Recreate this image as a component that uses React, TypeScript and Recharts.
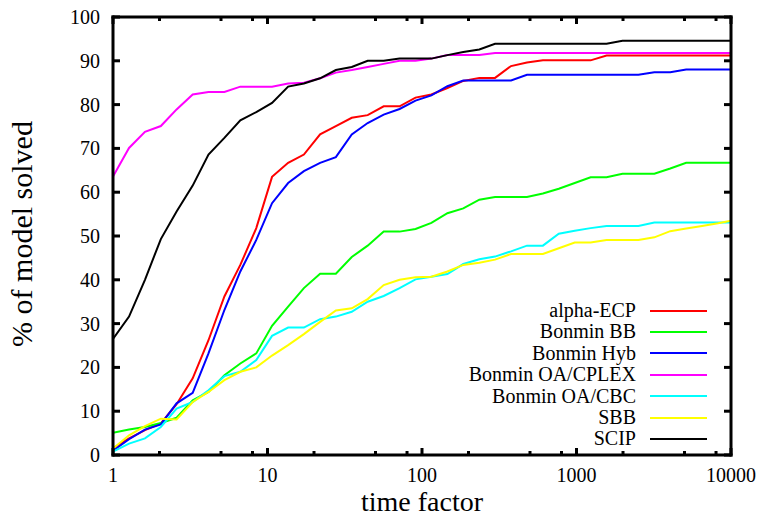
import { LineChart, Line, XAxis, YAxis, Legend } from 'recharts';

const FONT = '"Liberation Serif", "Times New Roman", serif';

// time factor at each sample (log spaced, ~1.27x per step)
const timeFactors = [
  1, 1.27, 1.61, 2.04, 2.58, 3.28, 4.15, 5.26, 6.67, 8.46,
  10.7, 13.6, 17.2, 21.9, 27.7, 35.1, 44.5, 56.5, 71.6, 90.8,
  115, 146, 185, 235, 297, 377, 478, 606, 768, 974,
  1234, 1565, 1984, 2516, 3190, 4044, 5127, 6500, 8241, 10000,
];

const alphaEcp = [
  1.5, 3.8, 5.7, 7.2, 11.6, 17.5, 26.2, 36.2, 43.4, 51.8,
  63.5, 66.7, 68.6, 73.2, 75.1, 77, 77.6, 79.6, 79.6, 81.6,
  82.3, 83.8, 85.4, 86.1, 86.1, 88.8, 89.6, 90.1, 90.1, 90.1,
  90.1, 91.2, 91.2, 91.2, 91.2, 91.2, 91.2, 91.2, 91.2, 91.2,
];

const bonminBB = [
  5.1, 5.8, 6.4, 7.3, 8.5, 12.5, 14.4, 18.2, 20.9, 23.2,
  29.5, 33.9, 38.1, 41.4, 41.4, 45.2, 47.8, 51, 51, 51.6,
  53, 55.2, 56.3, 58.3, 58.9, 58.9, 58.9, 59.7, 60.8, 62.1,
  63.4, 63.4, 64.2, 64.2, 64.2, 65.4, 66.7, 66.7, 66.7, 66.7,
];

const bonminHyb = [
  1, 3.6, 5.8, 7, 11.8, 14.2, 23.2, 33.1, 41.9, 49.1,
  57.5, 62.1, 64.8, 66.7, 68, 73.2, 75.8, 77.7, 79, 80.9,
  82.1, 84.2, 85.5, 85.5, 85.5, 85.5, 86.8, 86.8, 86.8, 86.8,
  86.8, 86.8, 86.8, 86.8, 87.4, 87.4, 88, 88, 88, 88,
];

const bonminOaCplex = [
  63.6, 70.1, 73.8, 75.1, 78.9, 82.3, 82.9, 82.9, 84.1, 84.1,
  84.1, 84.8, 85, 86, 87.3, 87.9, 88.6, 89.3, 90, 90,
  90.5, 91.3, 91.3, 91.3, 91.8, 91.8, 91.8, 91.8, 91.8, 91.8,
  91.8, 91.8, 91.8, 91.8, 91.8, 91.8, 91.8, 91.8, 91.8, 91.8,
];

const bonminOaCbc = [
  0.8, 2.6, 3.8, 6.4, 10.6, 12.1, 14.8, 18, 19, 21.7,
  27.2, 29.1, 29.1, 31, 31.6, 32.7, 35, 36.3, 38.1, 40.1,
  40.7, 41.3, 43.6, 44.7, 45.3, 46.5, 47.8, 47.8, 50.5, 51.2,
  51.8, 52.3, 52.3, 52.3, 53.1, 53.1, 53.1, 53.1, 53.1, 53.1,
];

const sbb = [
  1.5, 4.5, 6.6, 8.3, 8.1, 12.1, 14.4, 17.1, 19, 20,
  22.7, 25.1, 27.6, 30.4, 33, 33.5, 35.6, 38.8, 40, 40.6,
  40.7, 41.9, 43.4, 43.9, 44.6, 45.9, 45.9, 45.9, 47.2, 48.5,
  48.5, 49.1, 49.1, 49.1, 49.7, 51.1, 51.7, 52.3, 52.9, 53.5,
];

const scip = [
  26.5, 31.6, 40, 49.3, 55.6, 61.5, 68.6, 72.4, 76.4, 78.3,
  80.4, 84.1, 84.8, 86, 87.9, 88.6, 90, 90, 90.5, 90.5,
  90.5, 91.3, 92, 92.6, 93.9, 93.9, 93.9, 93.9, 93.9, 93.9,
  93.9, 93.9, 94.6, 94.6, 94.6, 94.6, 94.6, 94.6, 94.6, 94.6,
];

const seriesNames = ['alpha-ECP', 'Bonmin BB', 'Bonmin Hyb', 'Bonmin OA/CPLEX', 'Bonmin OA/CBC', 'SBB', 'SCIP'];
const seriesColors = ['#ff0000', '#00ff00', '#0000ff', '#ff00ff', '#00ffff', '#ffff00', '#000000'];
const seriesValues = [alphaEcp, bonminBB, bonminHyb, bonminOaCplex, bonminOaCbc, sbb, scip];

const majorX = [1, 10, 100, 1000, 10000];
const xTicks = [1, 2, 5, 8, 10, 20, 50, 80, 100, 200, 500, 800, 1000, 2000, 5000, 8000, 10000];
const yTicks = [0, 10, 20, 30, 40, 50, 60, 70, 80, 90, 100];

const data = timeFactors.map((x, i) => {
  const row: Record<string, number> = { x };
  seriesNames.forEach((name, s) => {
    row[name] = seriesValues[s][i];
  });
  return row;
});

// ticks point inward, labels sit outside the frame
const BottomTick = ({ x, y, payload }: any) => {
  const major = majorX.includes(payload.value);
  return (
    <g>
      <line x1={x} x2={x} y1={y} y2={y - (major ? 7 : 4)} stroke="#000" strokeWidth={3} />
      {major && (
        <text x={x} y={y + 27} textAnchor="middle" fontFamily={FONT} fontSize={20} fill="#000">
          {payload.value}
        </text>
      )}
    </g>
  );
};

const TopTick = ({ x, y, payload }: any) => {
  const major = majorX.includes(payload.value);
  return <line x1={x} x2={x} y1={y} y2={y + (major ? 7 : 4)} stroke="#000" strokeWidth={3} />;
};

const LeftTick = ({ x, y, payload }: any) => (
  <g>
    <line x1={x} x2={x + 7} y1={y} y2={y} stroke="#000" strokeWidth={3} />
    <text x={x - 13} y={y} textAnchor="end" dominantBaseline="central" fontFamily={FONT} fontSize={20} fill="#000">
      {payload.value}
    </text>
  </g>
);

const RightTick = ({ x, y }: any) => <line x1={x} x2={x - 7} y1={y} y2={y} stroke="#000" strokeWidth={3} />;

const XTitle = ({ viewBox }: any) => (
  <text
    x={viewBox.x + viewBox.width / 2}
    y={viewBox.y + 56}
    textAnchor="middle"
    fontFamily={FONT}
    fontSize={28}
    fill="#000"
  >
    time factor
  </text>
);

const YTitle = ({ viewBox }: any) => {
  const cx = viewBox.x + 32;
  const cy = viewBox.y + viewBox.height / 2 - 2;
  return (
    <text x={cx} y={cy} transform={`rotate(-90, ${cx}, ${cy})`} textAnchor="middle" fontFamily={FONT} fontSize={30} fill="#000">
      % of model solved
    </text>
  );
};

const renderLegend = ({ payload }: any) => {
  const items = [...(payload || [])].sort(
    (a: any, b: any) => seriesNames.indexOf(a.value) - seriesNames.indexOf(b.value)
  );
  return (
    <div style={{ fontFamily: FONT, fontSize: 20, color: '#000' }}>
      {items.map((entry: any) => (
        <div
          key={entry.value}
          style={{ display: 'flex', alignItems: 'center', justifyContent: 'flex-end', height: 21.4, lineHeight: '21.4px' }}
        >
          <span>{entry.value}</span>
          <span style={{ display: 'inline-block', width: 57, height: 0, borderTop: `2px solid ${entry.color}`, marginLeft: 14 }} />
        </div>
      ))}
    </div>
  );
};

const axisLine = { stroke: '#000', strokeWidth: 3, strokeLinecap: 'square' as const };

export default function App() {
  return (
    <div style={{ position: 'absolute', left: 0, top: 0, background: '#fff' }}>
      <LineChart width={760} height={517} data={data} margin={{ top: 16, right: 28, bottom: 0, left: 0 }}>
        <XAxis
          dataKey="x"
          type="number"
          scale="log"
          domain={[1, 10000]}
          allowDataOverflow
          ticks={xTicks}
          interval={0}
          height={62}
          tickLine={false}
          tickSize={0}
          tickMargin={0}
          tick={<BottomTick />}
          axisLine={axisLine}
          label={<XTitle />}
        />
        <XAxis
          xAxisId="top"
          orientation="top"
          dataKey="x"
          type="number"
          scale="log"
          domain={[1, 10000]}
          allowDataOverflow
          ticks={xTicks}
          interval={0}
          height={1}
          tickLine={false}
          tickSize={0}
          tickMargin={0}
          tick={<TopTick />}
          axisLine={axisLine}
        />
        <YAxis
          type="number"
          domain={[0, 100]}
          allowDataOverflow
          ticks={yTicks}
          interval={0}
          width={113}
          tickLine={false}
          tickSize={0}
          tickMargin={0}
          tick={<LeftTick />}
          axisLine={axisLine}
          label={<YTitle />}
        />
        <YAxis
          yAxisId="right"
          orientation="right"
          type="number"
          domain={[0, 100]}
          allowDataOverflow
          ticks={yTicks}
          interval={0}
          width={1}
          tickLine={false}
          tickSize={0}
          tickMargin={0}
          tick={<RightTick />}
          axisLine={axisLine}
        />
        {seriesNames.map((name, i) => (
          <Line
            key={name}
            type="linear"
            dataKey={name}
            name={name}
            stroke={seriesColors[i]}
            strokeWidth={2}
            dot={false}
            isAnimationActive={false}
          />
        ))}
        <Legend
          content={renderLegend}
          layout="horizontal"
          verticalAlign="middle"
          align="center"
          wrapperStyle={{ left: 387, top: 300, width: 320 }}
        />
      </LineChart>
    </div>
  );
}
